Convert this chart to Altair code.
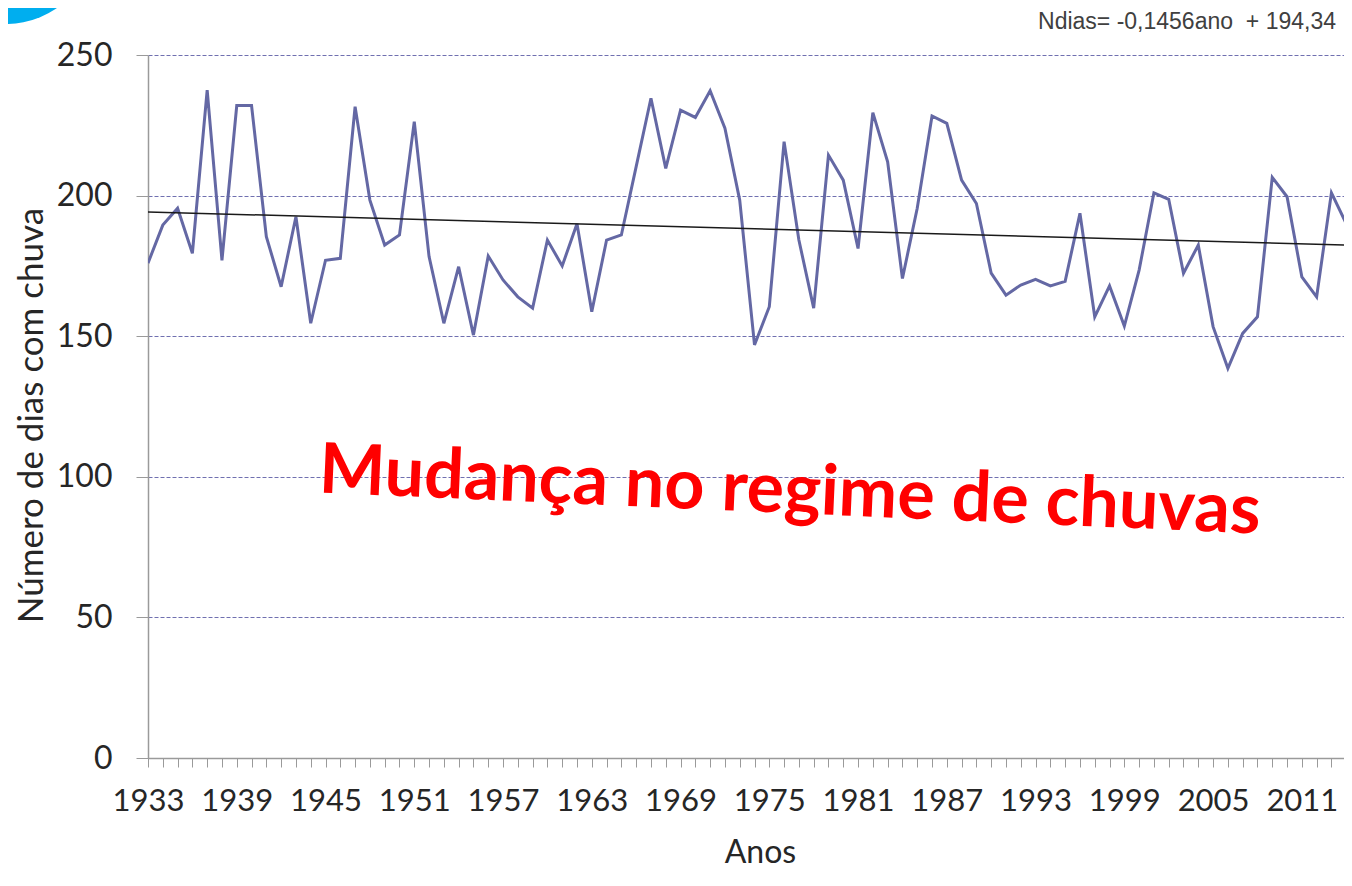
import altair as alt
import pandas as pd

# ---- data ----
years = list(range(1933, 2016))
dias = [176, 189.5, 195.5, 179.5, 237.5, 177, 232, 232, 185.4, 167.6,
        192.5, 154.6, 177, 177.7, 231.6, 198.4, 182.4, 186, 226.3, 178.3,
        154.6, 174.7, 150.4, 178.5, 170, 164, 160, 184.2, 175, 190,
        158.7, 184.2, 186, 210.3, 234.6, 209.7, 230.4, 227.8, 237.3, 224,
        198.4, 146.9, 160.5, 219.2, 184.2, 160, 214.4, 205.5, 181.2, 229.5,
        212, 170.5, 195.5, 228.3, 225.7, 205.5, 197.2, 172.4, 164.6, 168.2,
        170.2, 167.9, 169.5, 193.7, 156.9, 167.9, 153.6, 173.5, 201, 198.7,
        172.4, 182.4, 153.4, 138.6, 151, 156.9, 206.5, 199.6, 171.1, 164,
        201, 190, 225]

# regression stated on the chart: Ndias = -0,1456 ano + 194,34 (ano = index from 1)
trend_slope = -0.1456
trend_intercept = 194.34
trend_years = [1933, 2015]
trend_vals = [trend_slope * (y - 1932) + trend_intercept for y in trend_years]

y_ticks = [0, 50, 100, 150, 200, 250]
x_tick_years = list(range(1933, 2014))
equation_text = ["Ndias= -0,1456ano\u00a0 + 194,34"]
headline = ["Mudança no regime de chuvas"]
y_title = "Número de dias com chuva"
x_title = "Anos"

df = pd.DataFrame({"Ano": years, "Dias": dias})
tr = pd.DataFrame({"Ano": trend_years, "Dias": trend_vals})

AX = "#9a9a9a"
TXT = "#262626"
W = 1196
H = 703

x_scale = alt.Scale(domain=[1933, 2013.85], nice=False, zero=False)
y_scale = alt.Scale(domain=[0, 250], nice=False)

x_enc = alt.X(
    "Ano:Q", scale=x_scale,
    axis=alt.Axis(
        values=x_tick_years, format="d",
        labelExpr="(datum.value - 1933) % 6 == 0 ? datum.label : ''",
        labelOverlap=False, labelFlush=False,
        tickSize=9, tickColor=AX, tickWidth=1,
        domainColor=AX, domainWidth=1.5,
        labelFont="Lato", labelFontSize=31, labelColor=TXT, labelPadding=19,
        grid=False,
        title=x_title, titleFont="Lato", titleFontSize=32, titleFontWeight="normal",
        titleColor=TXT, titleX=612, titleY=104, titleBaseline="alphabetic",
    ),
)
y_enc = alt.Y(
    "Dias:Q", scale=y_scale,
    axis=alt.Axis(
        values=y_ticks, tickSize=12, tickColor=AX, tickWidth=1,
        domainColor=AX, domainWidth=1.5,
        labelFont="Lato", labelFontSize=32, labelColor=TXT, labelPadding=24,
        grid=True, gridColor="#7070b0", gridDash=[4, 2], gridWidth=1,
        title=y_title, titleFont="Lato", titleFontSize=35, titleFontWeight="normal",
        titleColor=TXT, titleX=-106, titleY=360, titleBaseline="alphabetic",
        titleAngle=270,
    ),
)

line = alt.Chart(df).mark_line(color="#6468a4", strokeWidth=3, clip=True).encode(
    x=x_enc, y=y_enc
)
trend = alt.Chart(tr).mark_line(color="#1a1a1a", strokeWidth=1.5, clip=True).encode(
    x=x_enc, y=y_enc
)

eq = alt.Chart(pd.DataFrame({"t": equation_text})).mark_text(
    font="Liberation Sans", fontSize=23, color="#404040", align="right",
    baseline="alphabetic"
).encode(x=alt.value(1188), y=alt.value(-26), text="t:N")

head = alt.Chart(pd.DataFrame({"t": headline})).mark_text(
    font="Lato", fontSize=70, fontWeight="bold", color="#ff0000",
    align="center", baseline="alphabetic", angle=2.5
).encode(x=alt.value(641), y=alt.value(458), text="t:N")

blob = alt.Chart(pd.DataFrame({"t": ["o"]})).mark_point(
    filled=True, shape="circle", size=31700, color="#00aeef", opacity=1, strokeWidth=0
).encode(x=alt.value(-142), y=alt.value(-120))

chart = alt.layer(line, trend, eq, head, blob).properties(
    width=W, height=H,
    autosize=alt.AutoSizeParams(type="none"),
    padding={"left": 140, "top": 47, "right": 0, "bottom": 112},
).configure_view(strokeWidth=0)

chart.save("out.html", embed_options={"renderer": "svg", "actions": False})
